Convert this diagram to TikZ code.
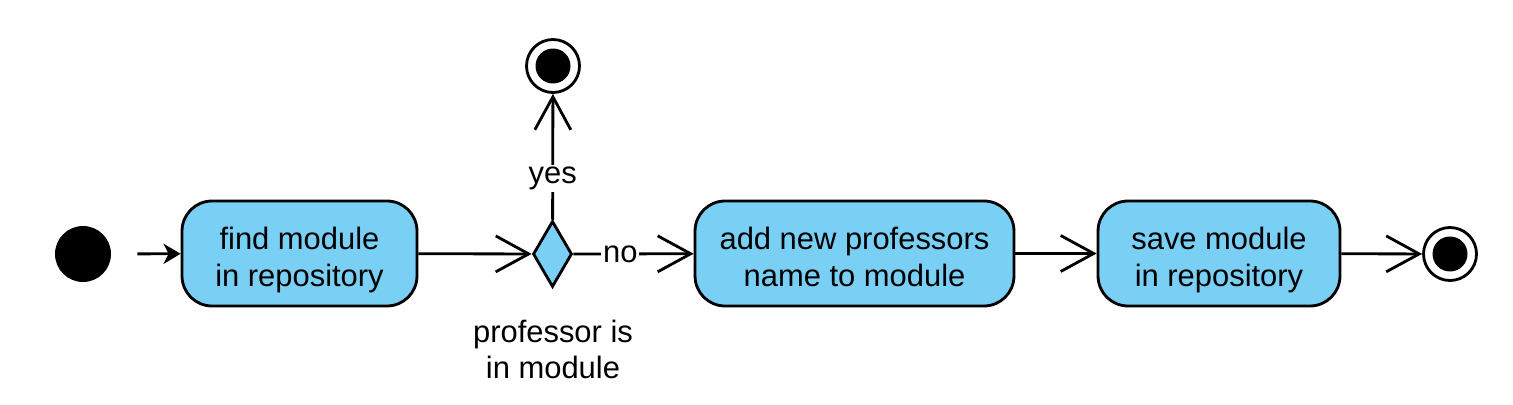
\documentclass[tikz,border=0pt]{standalone}
\usepackage{fontspec}
\setmainfont{Liberation Sans}
\usetikzlibrary{arrows.meta, shapes.geometric}
\definecolor{actblue}{RGB}{122,207,245}

\begin{document}
\begin{tikzpicture}[x=0.02cm, y=-0.02cm, line width=1.6pt,
  font=\fontsize{17.6}{20.5}\selectfont,
  action/.style={draw, fill=actblue, rounded corners=0.6cm, minimum height=2.1cm, align=center, inner sep=0pt,
    text height=37pt, text depth=0pt},
  endnode/.style={circle, draw, fill=white, minimum size=1.06cm, inner sep=0pt,
    path picture={\fill [black] (path picture bounding box.center) circle (0.35cm);}},
  flow/.style={-{Straight Barb[length=0.66cm, width=0.72cm]}},
  lbl/.style={fill=white, inner sep=1pt}]
\useasboundingbox (0,0) rectangle (1513,405);
\node [circle, fill, minimum size=1.12cm, inner sep=0pt] (start) at (83,254) {};
\node [action, minimum width=4.7cm] (find) at (299.5,253.5) {find module\\in repository};
\node [diamond, draw, fill=actblue, minimum width=0.78cm, minimum height=1.32cm, inner sep=0pt] (choice) at (552.5,254) {};
\node [endnode] (top) at (553,66) {};
\node [align=center] (cond) at (553,349) {professor is\\in module};
\node [action, minimum width=6.38cm] (add) at (854.5,253.5) {add new professors\\name to module};
\node [action, minimum width=4.84cm] (save) at (1219,253.5) {save module\\in repository};
\node [endnode] (stop) at (1450,254) {};
\draw [-{Stealth[length=0.34cm, width=0.4cm, inset=0.1cm]}, shorten <=0.5cm] (start) -- (find);
\draw [flow] (find) -- (choice);
\draw [flow] (choice) -- node [lbl, pos=0.39] {no} (add);
\draw [flow] (choice) -- node [lbl, pos=0.33] {yes} (top);
\draw [flow] (add) -- (save);
\draw [flow] (save) -- (stop);
\end{tikzpicture}
\end{document}
